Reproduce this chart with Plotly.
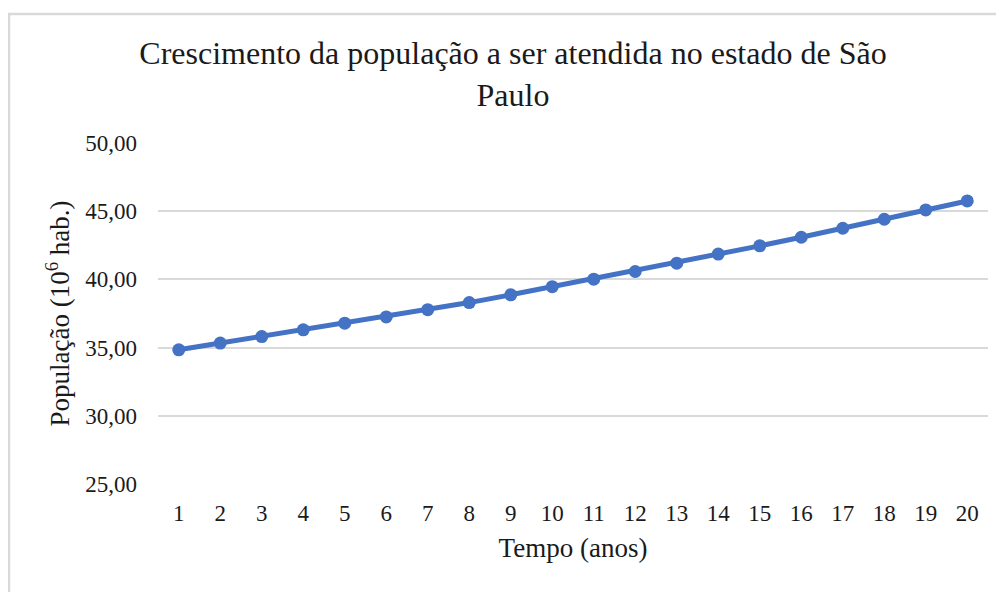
import plotly.graph_objects as go

anos = list(range(1, 21))
populacao = [34.84, 35.33, 35.81, 36.30, 36.79, 37.25, 37.78, 38.30, 38.87, 39.47,
             40.02, 40.58, 41.19, 41.86, 42.46, 43.09, 43.75, 44.41, 45.09, 45.75]

# a página tem margem de 8px no body, então a figura fica deslocada
W, H = 996, 584
L, R, T, B = 150, 16, 135, 108
fonte = "Liberation Serif"
cor_texto = "#1a1a1a"

fig = go.Figure()

fig.add_trace(go.Scatter(
    x=anos,
    y=populacao,
    mode='lines+markers',
    line=dict(color='#4472C4', width=5),
    marker=dict(size=13, color='#4472C4'),
    showlegend=False
))

# moldura cinza clara do gráfico (como no Excel)
pw, ph = W - L - R, H - T - B
fig.add_shape(
    type="rect", xref="paper", yref="paper",
    x0=(1 - L) / pw, x1=(W + 10 - L) / pw,
    y0=(H - B - (H + 10)) / ph, y1=(H - B - 6) / ph,
    line=dict(color="#d9d9d9", width=2.5), layer="below"
)

fig.update_layout(
    width=W, height=H,
    margin=dict(l=L, r=R, t=T, b=B),
    plot_bgcolor="white",
    paper_bgcolor="white",
    separators=",.",
    font=dict(family=fonte, size=23, color=cor_texto),
    title=dict(
        text="Crescimento da população a ser atendida no estado de São<br>Paulo",
        x=505 / W, xanchor="center",
        y=1 - 56 / H, yanchor="top",
        font=dict(family=fonte, size=32, color=cor_texto)
    ),
    xaxis=dict(
        range=[0.5, 20.5],
        tickmode="array", tickvals=anos, ticktext=[str(a) for a in anos],
        showgrid=False, zeroline=False, showline=False,
        ticks="", ticklabelstandoff=13,
        tickfont=dict(size=23),
        title=dict(text="Tempo (anos)", font=dict(size=27), standoff=13)
    ),
    yaxis=dict(
        range=[25, 50],
        tickmode="array", tickvals=[25, 30, 35, 40, 45, 50],
        tickformat=".2f",
        showgrid=True, gridcolor="#d9d9d9", gridwidth=1.5,
        zeroline=False, showline=False,
        ticks="", ticklabelstandoff=20,
        tickfont=dict(size=23),
        title=dict(text="População (10<sup>6</sup> hab.)", font=dict(size=27), standoff=7)
    )
)

fig.write_html("out.html")
